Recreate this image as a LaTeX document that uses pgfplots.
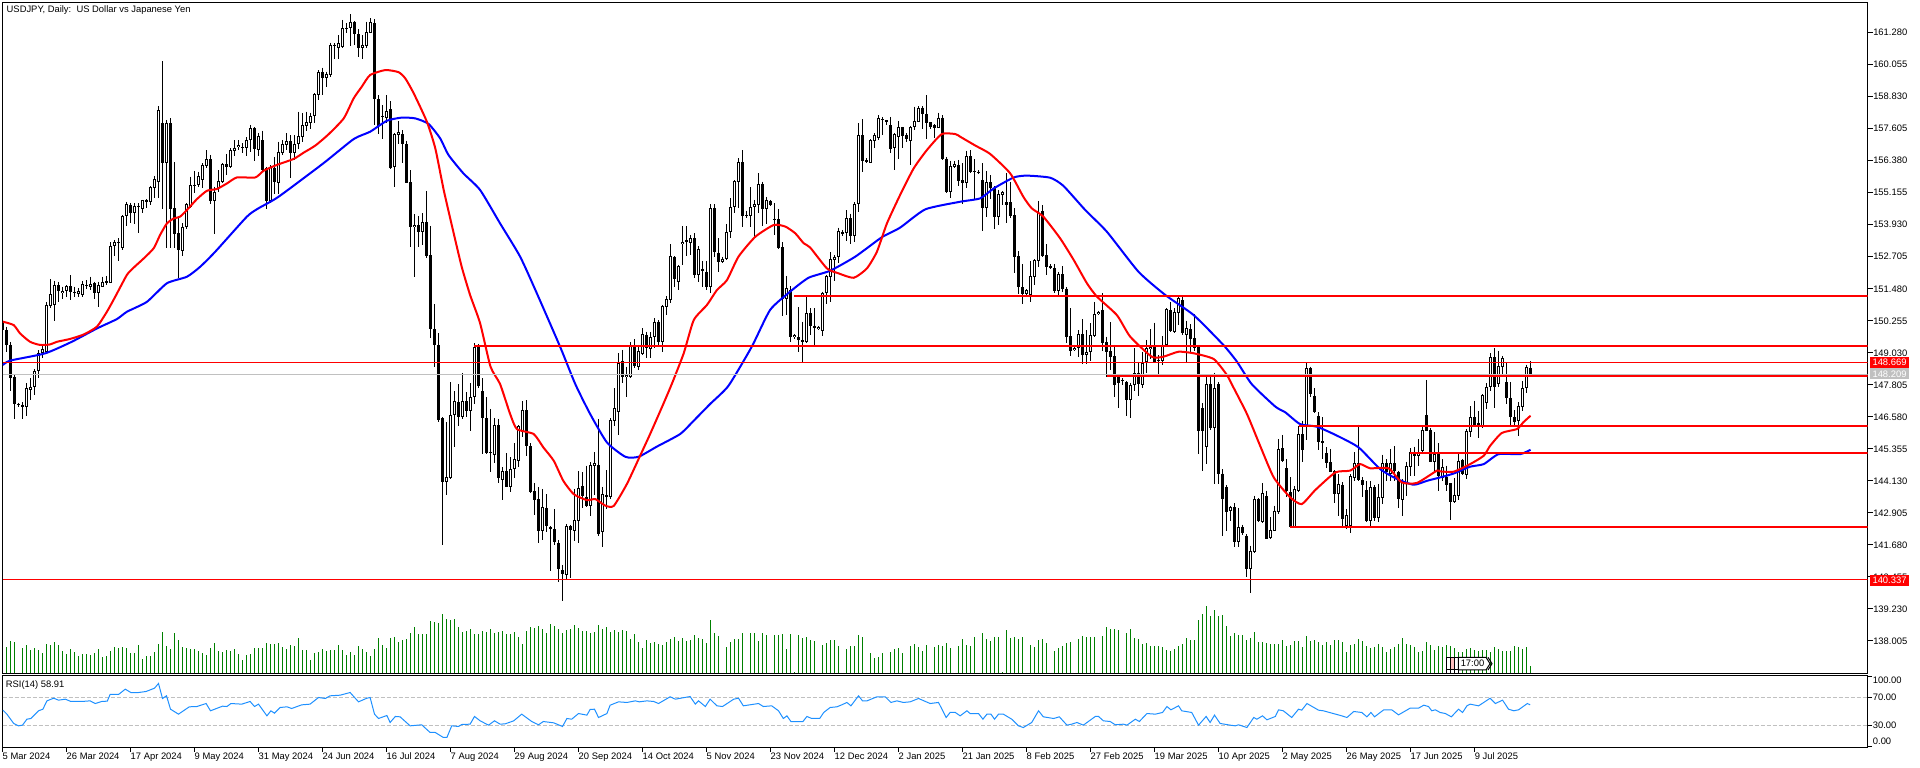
\documentclass[border=0pt]{standalone}
\usepackage{fontspec}
\setmainfont{Liberation Sans}
\usepackage{pgfplots}
\usepackage{pgfplotstable}
\pgfplotsset{compat=1.18}
\definecolor{volgreen}{HTML}{008000}
\definecolor{rsiblue}{HTML}{1E90FF}
\definecolor{lvlgrey}{HTML}{C0C0C0}
\pgfplotstableread{
i o h l c
0 150.22 150.54 149.65 149.90
1 149.90 150.03 149.07 149.33
2 149.33 149.45 147.58 148.05
3 148.11 148.18 146.50 147.07
4 147.07 147.12 146.97 147.02
5 147.04 147.13 146.50 146.94
6 146.94 147.86 146.62 147.68
7 147.60 148.05 147.22 147.73
8 147.73 148.40 147.41 148.33
9 148.33 149.13 148.05 149.01
10 149.01 149.33 148.82 149.16
11 149.07 150.98 149.01 150.86
12 150.82 151.84 150.73 151.27
13 150.86 151.78 150.26 151.62
14 151.62 151.75 150.98 151.41
15 151.30 151.56 151.09 151.41
16 151.39 151.62 151.17 151.58
17 151.58 151.99 151.05 151.34
18 151.37 151.56 151.17 151.30
19 151.28 151.50 151.17 151.39
20 151.25 151.78 151.17 151.65
21 151.60 151.81 151.46 151.62
22 151.56 151.94 151.43 151.67
23 151.70 151.75 151.09 151.33
24 151.33 151.75 150.80 151.62
25 151.56 151.94 151.53 151.75
26 151.74 151.97 151.62 151.76
27 151.71 153.26 151.69 153.13
28 153.13 153.35 152.73 153.26
29 153.24 153.41 152.55 153.27
30 153.03 154.30 152.96 154.27
31 154.27 154.81 153.88 154.72
32 154.70 154.77 153.98 154.37
33 154.39 154.77 153.94 154.65
34 154.63 154.75 153.60 154.66
35 154.54 154.88 154.39 154.86
36 154.81 154.90 154.56 154.88
37 154.81 155.41 154.68 155.36
38 155.32 155.80 154.97 155.67
39 155.58 158.47 154.97 158.31
40 157.81 160.19 154.52 156.30
41 156.28 157.94 153.03 157.84
42 157.81 158.00 153.03 154.52
43 154.56 156.32 153.03 153.57
44 153.60 154.24 151.88 152.96
45 152.94 153.98 152.73 153.86
46 153.83 154.77 153.75 154.72
47 154.62 155.77 154.56 155.44
48 155.44 155.99 155.16 155.46
49 155.44 155.96 155.39 155.79
50 155.64 156.28 155.32 156.22
51 156.19 156.79 156.09 156.43
52 156.43 156.60 154.72 154.85
53 154.85 155.39 153.57 155.20
54 155.32 156.02 155.20 155.62
55 155.58 156.30 155.54 156.24
56 156.25 156.64 155.83 156.15
57 156.13 156.85 156.09 156.78
58 156.76 157.17 156.56 156.88
59 156.89 157.17 156.79 156.97
60 156.88 157.04 156.69 156.90
61 156.85 157.27 156.57 157.17
62 157.17 157.75 156.73 157.62
63 157.62 157.68 156.38 156.81
64 156.79 157.45 156.56 157.33
65 157.17 157.53 155.96 156.02
66 156.09 156.15 154.52 154.85
67 154.84 156.21 154.75 156.15
68 156.11 156.53 155.11 155.58
69 155.54 157.11 155.11 156.73
70 156.69 157.17 156.60 157.02
71 156.99 157.43 156.79 157.12
72 157.12 157.36 155.73 156.69
73 156.69 157.36 156.41 157.02
74 157.01 158.26 156.81 157.33
75 157.27 158.19 157.11 157.73
76 157.71 158.26 157.53 157.85
77 157.81 158.22 157.58 158.09
78 158.09 158.96 157.84 158.92
79 158.89 159.85 158.70 159.77
80 159.77 159.94 158.89 159.56
81 159.56 159.79 159.21 159.70
82 159.66 160.90 159.57 160.79
83 160.79 160.87 160.26 160.82
84 160.71 161.19 160.27 160.87
85 160.74 161.77 160.71 161.45
86 161.43 161.64 161.25 161.46
87 161.45 161.98 160.77 161.70
88 161.70 161.73 160.81 161.22
89 161.23 161.41 160.36 160.68
90 160.71 161.19 160.27 160.81
91 160.77 161.70 160.71 161.29
92 161.28 161.83 161.25 161.68
93 161.64 161.79 157.75 158.75
94 158.75 158.89 157.40 157.71
95 158.10 158.51 157.20 158.04
96 158.00 158.89 157.84 158.28
97 158.35 158.66 156.05 156.11
98 156.15 157.45 155.39 157.40
99 157.38 157.90 157.01 157.47
100 157.39 157.55 156.30 157.01
101 157.02 157.15 155.51 155.54
102 155.55 156.02 153.09 153.86
103 153.83 154.33 151.94 153.91
104 153.91 154.26 153.09 153.67
105 153.67 154.37 153.15 154.02
106 154.02 155.23 152.64 152.75
107 152.77 153.89 149.58 149.94
108 149.94 150.88 148.50 149.33
109 149.33 149.77 146.39 146.46
110 146.53 146.58 141.69 144.10
111 144.10 146.37 143.60 144.26
112 144.24 147.90 144.20 146.66
113 146.66 147.55 145.41 147.17
114 147.13 147.83 146.24 146.58
115 146.56 148.24 146.50 147.17
116 147.17 147.51 146.56 146.81
117 146.81 147.86 146.05 147.32
118 147.32 149.39 147.07 149.26
119 149.26 149.35 147.67 147.77
120 147.55 148.05 145.16 146.52
121 146.52 147.32 145.16 145.19
122 145.20 146.88 144.45 145.23
123 145.13 146.52 144.81 146.26
124 146.26 146.50 144.03 144.22
125 144.17 144.65 143.41 144.49
126 144.49 145.19 143.88 143.91
127 143.88 145.03 143.69 144.57
128 144.57 145.56 144.22 144.95
129 144.90 146.26 144.65 146.24
130 145.98 147.17 145.79 146.84
131 146.84 147.22 145.09 145.45
132 145.45 145.56 143.66 143.71
133 143.73 144.04 142.83 143.41
134 143.43 143.88 141.76 142.22
135 142.22 143.82 141.88 143.11
136 143.09 143.62 142.18 142.41
137 142.35 142.41 140.69 142.32
138 142.28 143.05 141.67 141.80
139 141.75 141.86 140.27 140.75
140 140.70 140.91 139.54 140.56
141 140.52 142.48 140.35 142.39
142 142.39 142.44 140.41 142.25
143 142.22 143.82 141.81 142.63
144 142.58 144.49 141.74 143.84
145 143.92 144.45 143.09 143.53
146 143.50 144.71 143.11 143.15
147 143.15 144.84 142.80 144.73
148 144.71 145.22 143.59 144.80
149 144.73 146.50 142.03 142.09
150 142.18 143.90 141.61 143.61
151 143.55 144.54 143.05 143.57
152 143.52 146.53 143.43 146.46
153 146.43 147.68 146.24 146.90
154 146.77 149.01 145.89 148.62
155 148.71 149.14 147.86 148.11
156 148.09 148.50 147.35 148.18
157 148.11 149.45 148.05 149.33
158 149.33 149.54 148.43 148.52
159 148.50 149.33 148.37 149.10
160 148.98 149.96 148.94 149.73
161 149.71 149.84 148.82 149.20
162 149.16 149.81 148.82 149.62
163 149.62 150.35 149.20 150.22
164 150.22 150.28 149.33 149.43
165 149.45 150.86 149.07 150.82
166 150.79 151.20 150.47 151.07
167 151.05 153.19 150.95 152.75
168 152.71 152.73 151.53 151.84
169 151.75 152.39 151.43 152.35
170 153.18 153.88 152.39 153.28
171 153.31 153.88 152.73 153.33
172 153.24 153.54 152.77 153.41
173 153.41 153.60 151.88 152.01
174 152.01 153.11 151.75 153.00
175 152.25 152.55 151.53 152.16
176 152.13 152.55 151.43 151.53
177 151.53 154.71 151.30 154.56
178 154.56 154.71 152.71 152.87
179 152.86 153.41 152.13 152.52
180 152.52 152.71 152.45 152.63
181 152.62 153.96 152.58 153.66
182 153.66 154.94 153.41 154.60
183 154.60 155.64 154.37 155.60
184 155.58 156.47 154.56 156.32
185 156.32 156.79 153.86 154.28
186 154.29 154.47 154.17 154.31
187 154.28 155.36 153.86 154.60
188 154.60 154.88 153.47 154.72
189 154.68 155.90 154.37 155.48
190 155.48 155.58 153.88 154.52
191 154.52 155.00 153.96 154.88
192 154.85 154.88 154.65 154.68
193 154.16 154.75 153.54 154.14
194 154.14 154.52 152.99 153.03
195 153.07 153.26 150.45 151.09
196 151.09 151.97 150.47 151.50
197 151.43 151.58 149.45 149.65
198 149.62 149.75 149.54 149.71
199 149.62 150.77 149.07 149.52
200 149.52 150.22 148.66 149.45
201 149.45 151.18 149.39 150.54
202 150.54 150.73 149.71 150.07
203 150.07 150.73 149.33 149.96
204 149.94 150.05 149.90 150.03
205 149.88 151.37 149.68 151.33
206 151.30 152.01 150.88 151.97
207 151.94 152.87 150.98 152.60
208 152.58 152.77 151.78 152.71
209 152.68 153.82 152.45 153.69
210 153.66 153.73 153.50 153.56
211 153.60 154.49 153.32 154.17
212 154.17 154.36 153.18 153.50
213 153.51 154.79 153.26 154.71
214 154.71 157.81 154.43 157.35
215 157.35 157.96 155.96 156.38
216 156.37 156.47 156.30 156.39
217 156.30 157.20 156.28 157.17
218 157.15 157.45 156.85 157.36
219 157.24 158.13 157.17 158.00
220 157.95 158.06 157.36 157.97
221 157.90 157.94 157.75 157.92
222 157.73 158.06 156.69 156.83
223 156.85 157.45 156.02 157.39
224 157.27 157.91 156.43 157.66
225 157.66 157.68 156.85 157.33
226 157.36 157.43 157.11 157.21
227 157.15 157.71 156.22 157.66
228 157.66 158.45 157.55 157.90
229 157.87 158.47 157.87 158.38
230 158.41 158.47 157.58 158.15
231 158.17 158.89 157.21 157.84
232 157.85 157.87 157.58 157.68
233 157.73 157.78 157.24 157.64
234 157.64 158.22 157.62 158.03
235 158.03 158.13 156.41 156.46
236 156.46 156.53 155.13 155.20
237 155.20 156.38 154.97 156.18
238 156.15 156.37 156.11 156.25
239 156.21 156.41 155.41 155.60
240 155.63 156.28 154.72 155.54
241 155.54 156.76 155.35 156.56
242 156.56 156.79 155.92 155.95
243 155.99 156.43 154.88 155.95
244 155.96 156.02 155.87 155.94
245 155.63 156.28 153.70 154.58
246 154.58 155.99 154.24 155.55
247 155.55 155.83 154.90 155.32
248 155.32 155.41 153.78 154.24
249 154.24 155.26 153.92 155.09
250 155.07 155.23 154.68 155.20
251 154.79 155.90 153.98 154.68
252 154.79 155.58 154.17 154.27
253 154.30 154.56 152.07 152.71
254 152.73 152.92 151.28 151.53
255 151.53 152.41 150.90 151.28
256 151.28 151.46 151.24 151.43
257 151.24 152.55 150.98 151.97
258 151.94 152.60 151.62 152.58
259 152.55 154.84 152.32 154.37
260 154.45 154.68 152.68 152.73
261 152.76 153.18 152.01 152.32
262 152.31 152.41 152.22 152.34
263 152.26 152.43 151.33 151.41
264 151.41 152.13 151.21 152.04
265 152.04 152.35 151.37 151.49
266 151.49 151.53 149.39 149.65
267 149.67 150.73 148.92 149.11
268 149.13 149.33 149.10 149.22
269 149.20 149.90 148.85 149.73
270 149.73 150.31 148.59 148.94
271 148.94 149.90 148.60 149.05
272 149.05 150.16 148.73 149.71
273 149.68 150.98 149.65 150.51
274 150.50 150.64 150.47 150.60
275 150.67 151.30 149.11 149.39
276 149.43 149.65 148.11 149.07
277 149.10 150.19 148.37 148.88
278 148.90 149.33 147.32 147.80
279 148.11 148.21 146.92 147.86
280 147.97 148.05 147.80 147.99
281 147.92 147.95 146.62 147.23
282 147.23 147.88 146.53 147.80
283 147.80 149.20 147.55 148.24
284 148.27 148.69 147.36 147.83
285 147.80 149.07 147.67 148.62
286 148.69 149.52 148.27 149.20
287 149.16 149.93 148.78 149.26
288 149.26 150.18 148.62 148.65
289 148.74 148.94 148.11 148.77
290 148.73 149.67 148.56 149.33
291 149.33 150.75 149.29 150.69
292 150.66 150.98 149.84 149.88
293 149.84 150.73 149.80 150.60
294 150.57 151.18 150.09 151.11
295 151.05 151.20 149.71 149.77
296 149.71 150.26 148.65 149.96
297 149.93 150.13 149.01 149.56
298 149.58 150.50 149.11 149.20
299 149.33 149.33 145.16 146.05
300 146.91 147.09 144.51 146.05
301 145.41 148.18 144.77 147.83
302 147.83 148.18 146.07 146.17
303 146.17 148.27 144.01 147.68
304 147.83 147.92 144.01 144.39
305 144.41 144.58 142.03 143.43
306 143.88 143.97 142.22 142.95
307 142.96 143.18 142.60 143.11
308 143.11 143.27 141.61 141.77
309 141.77 143.09 141.61 142.35
310 142.35 142.45 142.07 142.13
311 142.00 142.09 140.46 140.75
312 140.75 141.65 139.85 141.46
313 141.39 143.56 141.35 143.43
314 143.43 143.46 142.54 142.58
315 142.57 144.04 142.50 143.65
316 143.53 143.75 141.90 141.90
317 141.93 142.73 141.90 142.25
318 142.22 143.18 142.20 142.99
319 142.94 145.73 142.86 145.35
320 145.37 145.89 144.84 144.90
321 144.61 144.96 143.50 143.75
322 143.69 144.26 142.35 142.37
323 142.35 143.94 142.35 143.80
324 143.73 146.24 143.69 145.92
325 145.92 146.43 144.84 145.32
326 146.24 148.62 145.70 148.43
327 148.43 148.50 147.32 147.45
328 147.39 147.68 146.71 146.75
329 146.62 146.75 145.31 145.63
330 145.64 146.56 144.96 145.58
331 145.18 145.41 144.62 144.81
332 144.84 145.35 144.45 144.48
333 144.49 144.54 143.27 143.62
334 143.62 144.39 142.80 144.01
335 143.97 144.07 142.41 142.67
336 142.39 143.05 142.28 142.82
337 142.41 144.39 142.12 144.30
338 144.24 145.22 144.11 144.81
339 144.81 146.28 144.13 144.16
340 144.16 144.26 143.50 143.97
341 143.78 144.13 142.54 142.60
342 142.60 144.13 142.41 143.88
343 143.88 143.97 142.58 142.69
344 142.69 144.01 142.57 143.50
345 143.47 145.13 143.24 144.81
346 144.81 144.96 144.13 144.48
347 144.39 145.35 144.13 144.81
348 144.81 145.45 144.13 144.49
349 144.48 144.52 143.09 143.43
350 143.41 144.20 142.77 144.07
351 144.01 144.86 143.56 144.68
352 144.65 145.38 144.32 145.22
353 145.22 145.44 144.32 145.08
354 145.07 145.73 144.71 145.22
355 145.28 146.24 145.22 146.07
356 146.65 147.99 146.02 146.05
357 146.07 146.17 144.84 144.84
358 144.86 145.98 144.45 145.16
359 145.22 145.56 143.75 144.32
360 144.22 144.96 144.13 144.65
361 144.26 144.71 143.75 143.97
362 144.03 144.03 142.63 143.33
363 143.33 144.22 143.28 143.59
364 143.56 145.18 143.41 144.90
365 144.93 144.96 144.36 144.41
366 144.36 146.12 144.20 146.05
367 146.01 146.98 145.82 146.56
368 146.56 147.20 146.21 146.24
369 146.33 146.79 145.75 146.24
370 146.24 147.45 146.17 147.41
371 147.09 147.86 146.88 147.73
372 147.71 149.01 147.55 148.85
373 148.85 149.20 146.90 147.73
374 147.83 149.10 147.71 148.52
375 148.50 148.91 148.18 148.82
376 147.92 148.62 147.07 147.30
377 147.30 147.92 146.24 146.56
378 146.56 146.84 146.24 146.40
379 146.43 147.13 145.86 147.00
380 146.97 147.95 146.81 147.68
381 147.69 148.58 147.49 148.47
382 148.43 148.71 148.11 148.21
}\candles
\begin{document}
\begin{tikzpicture}[x=1pt,y=1pt]
\path[use as bounding box] (0,0) rectangle (1920,768);
% volume
\begin{axis}[at={(2.5pt,94.5pt)},anchor=south west,scale only axis,width=1865pt,height=200pt,
  xmin=0,xmax=466.25,ymin=0,ymax=600,hide axis]
\addplot[ycomb,draw=volgreen,line width=1pt,mark=none] coordinates {
(1,78)(2,96)(3,93)(4,0)(5,75)(6,85)(7,70)(8,76)(9,70)(10,61)(11,88)(12,85)(13,94)(14,85)(15,67)(16,58)(17,73)(18,64)(19,52)(20,58)(21,58)(22,55)(23,61)(24,73)(25,49)(26,52)(27,67)(28,79)(29,76)(30,79)(31,76)(32,61)(33,61)(34,85)(35,43)(36,52)(37,52)(38,64)(39,88)(40,124)(41,82)(42,73)(43,121)(44,100)(45,79)(46,76)(47,73)(48,73)(49,67)(50,61)(51,55)(52,76)(53,91)(54,67)(55,64)(56,70)(57,68)(58,73)(59,58)(60,40)(61,55)(62,58)(63,76)(64,76)(65,76)(66,91)(67,88)(68,88)(69,91)(70,79)(71,73)(72,85)(73,82)(74,106)(75,70)(76,70)(77,40)(78,61)(79,64)(80,73)(81,67)(82,70)(83,70)(84,85)(85,70)(86,55)(87,64)(88,55)(89,82)(90,73)(91,64)(92,52)(93,73)(94,106)(95,85)(96,76)(97,106)(98,109)(99,94)(100,100)(101,103)(102,121)(103,139)(104,118)(105,118)(106,118)(107,157)(108,154)(109,151)(110,178)(111,163)(112,160)(113,163)(114,139)(115,124)(116,127)(117,133)(118,118)(119,118)
(120,127)(121,124)(122,133)(123,121)(124,124)(125,127)(126,118)(127,118)(128,124)(129,109)(130,88)(131,127)(132,139)(133,136)(134,142)(135,133)(136,121)(137,148)(138,142)(139,133)(140,121)(141,130)(142,133)(143,145)(144,136)(145,127)(146,127)(147,121)(148,124)(149,145)(150,133)(151,139)(152,124)(153,130)(154,124)(155,130)(156,127)(157,103)(158,118)(159,94)(160,76)(161,100)(162,91)(163,94)(164,88)(165,85)(166,94)(167,103)(168,109)(169,97)(170,106)(171,97)(172,100)(173,115)(174,106)(175,103)(176,91)(177,160)(178,121)(179,112)(180,0)(181,79)(182,94)(183,103)(184,103)(185,121)(186,0)(187,121)(188,121)(189,97)(190,121)(191,115)(192,0)(193,115)(194,115)(195,118)(196,73)(197,118)(198,4)(199,115)(200,106)(201,109)(202,100)(203,97)(204,0)(205,85)(206,91)(207,100)(208,100)(209,82)(210,0)(211,73)(212,82)(213,82)(214,115)(215,109)(216,0)(217,61)(218,46)(219,49)(220,61)(221,0)(222,64)(223,73)(224,76)(225,61)(226,0)(227,82)(228,88)(229,79)(230,67)(231,85)(232,0)(233,79)(234,85)(235,82)(236,91)(237,76)(238,0)(239,82)
(240,103)(241,85)(242,82)(243,109)(244,0)(245,121)(246,103)(247,97)(248,109)(249,109)(250,4)(251,130)(252,106)(253,109)(254,103)(255,109)(256,0)(257,85)(258,79)(259,100)(260,103)(261,91)(262,0)(263,67)(264,76)(265,82)(266,91)(267,94)(268,0)(269,103)(270,112)(271,109)(272,109)(273,109)(274,0)(275,112)(276,139)(277,133)(278,133)(279,130)(280,0)(281,121)(282,133)(283,106)(284,103)(285,88)(286,91)(287,82)(288,82)(289,82)(290,79)(291,70)(292,67)(293,73)(294,82)(295,88)(296,106)(297,100)(298,100)(299,160)(300,178)(301,202)(302,172)(303,190)(304,172)(305,175)(306,142)(307,112)(308,121)(309,115)(310,115)(311,100)(312,106)(313,124)(314,94)(315,94)(316,91)(317,88)(318,88)(319,88)(320,100)(321,82)(322,85)(323,97)(324,97)(325,79)(326,112)(327,97)(328,100)(329,94)(330,85)(331,94)(332,85)(333,100)(334,100)(335,94)(336,64)(337,85)(338,88)(339,103)(340,97)(341,82)(342,76)(343,79)(344,88)(345,79)(346,64)(347,73)(348,79)(349,88)(350,106)(351,88)(352,85)(353,79)(354,64)(355,67)(356,94)(357,85)(358,70)(359,82)
(360,79)(361,85)(362,82)(363,76)(364,64)(365,64)(366,73)(367,76)(368,70)(369,67)(370,70)(371,70)(372,64)(373,79)(374,73)(375,67)(376,67)(377,67)(378,82)(379,79)(380,73)(381,79)(382,22)
};
\end{axis}
% RSI panel
\begin{axis}[at={(2.5pt,20.5pt)},anchor=south west,scale only axis,width=1865pt,height=72pt,
  xmin=0,xmax=466.25,ymin=-1.43,ymax=101.43,
  axis line style={line width=1pt,black},tick style={black,line width=1pt},
  tick align=outside,major tick length=4.5pt,
  xtick pos=bottom,ytick pos=right,
  xtick={0,16,32,48,64,80,96,112,128,144,160,176,192,208,224,240,256,272,288,304,320,336,352,368},
  xticklabels={5 Mar 2024,26 Mar 2024,17 Apr 2024,9 May 2024,31 May 2024,24 Jun 2024,16 Jul 2024,7 Aug 2024,29 Aug 2024,20 Sep 2024,14 Oct 2024,5 Nov 2024,23 Nov 2024,12 Dec 2024,2 Jan 2025,21 Jan 2025,8 Feb 2025,27 Feb 2025,19 Mar 2025,10 Apr 2025,2 May 2025,26 May 2025,17 Jun 2025,9 Jul 2025},
  xticklabel style={anchor=north west,inner sep=0pt,font=\fontsize{9.4}{10}\selectfont,yshift=-0.5pt},
  ytick={0,30,70,100},yticklabels={,,,}]
\addplot[lvlgrey,line width=1pt,dash pattern=on 4pt off 2pt] coordinates {(0,70)(466.25,70)};
\addplot[lvlgrey,line width=1pt,dash pattern=on 4pt off 2pt] coordinates {(0,30)(466.25,30)};
\addplot[rsiblue,line width=1pt] coordinates {
(0.1,51.9)(1.1,46.2)(2.8,32.9)(4,29.5)(5,30.5)(6.1,39)(7.1,40)(9,51)(10.1,53.3)(11.1,65.2)(12.8,69)(14,66.2)(15.7,67.6)(17.1,64.3)(19.8,64.3)(21.9,65.2)(23.2,61.4)(24.8,64.3)(26.2,64.8)(26.9,74.3)(29,74.3)(30.7,81.9)(32.1,77.1)(34,77.1)(35.9,78.6)(38,83.3)(39,90)(40,68.6)(41,72.4)(42,53.3)(44,46.2)(46.7,56.7)(48.6,57.1)(50.9,61.4)(52,51)(55,57.6)(56.1,57.1)(57.1,61.4)(59.8,60.5)(61.9,64.3)(63,57.1)(64,60.5)(66.1,43.8)(67.1,51)(68,47.6)(69.4,55.7)(71.1,56.7)(72.3,54.3)(74.8,59.5)(76.9,60.5)(79,70)(80.7,68.6)(81.9,72.4)(84.4,73.3)(86.9,77.1)(89,63.8)(91.1,69)(91.9,70)(93,46.2)(94,40)(96.1,44.3)(96.9,34.3)(98.2,42.9)(99.4,42.4)(101.9,29.5)(104.8,31)(106.9,20)(108.2,20)(110.2,12.9)(111.1,12.9)(112.3,29.5)(114,28.6)(114.8,31.4)(116.9,31.9)(118,42.9)(119.4,36.7)
(121.5,30.5)(123,36.7)(124.4,31.9)(125.7,32.4)(127.8,36.7)(129.8,46.2)(132.3,35.7)(134,31)(135.2,35.7)(137.8,33.8)(140,28.6)(141.1,40)(142.3,39)(144,47.1)(146.1,44.8)(146.9,52.9)(148,53.3)(149,41.4)(151.1,47.1)(151.9,59)(154,63.8)(156.1,62.9)(158.2,65.2)(159.2,63.8)(161.1,65.2)(162.8,64.3)(164,61.4)(166.9,71)(168.2,67.6)(171.9,71.4)(173.2,60.5)(174,65.2)(175.7,57.1)(176.9,67.6)(178.6,58.1)(180,57.1)(182.8,67.6)(184,69)(185.2,58.1)(189,61.4)(190.2,57.1)(192.3,58.1)(194,51)(195.2,40)(196.1,43.8)(197.1,35.7)(200.1,35.7)(201.1,42.9)(202.3,40)(204.3,40)(205.3,48.6)(206.9,55.7)(208.6,56.7)(209.8,59.5)(211.1,62.9)(212.1,58.1)(214,72.4)(215,65.2)(216.1,65.2)(218.6,71)(220.7,71)(222.1,62.9)(223.6,65.2)(225.2,62.9)(226.9,63.8)(229,68.6)(231.9,61.4)(234,62.9)(235.9,41.4)(236.9,48.6)(238.2,48.6)(239.4,43.8)
(241.1,51)(241.9,47.1)(244,47.1)(245.1,39)(246.1,46.2)(247.1,46.2)(248,39)(249,46.2)(250.2,46.2)(252.3,39)(254,29.5)(255.2,27.1)(257.3,34.3)(259,51)(260.2,42.4)(262.8,40)(264.2,42.4)(266.1,30.5)(267.3,31.9)(268.6,34.3)(270.2,30.5)(273.2,42.9)(274,42.9)(275.2,36.7)(276.9,35.7)(278.2,31)(280.2,31.9)(281.1,30.5)(283.2,39)(284.2,35.7)(286.1,47.1)(288.2,46.2)(290,48.6)(291.1,57.1)(292.1,52.4)(294,58.1)(294.8,51)(297.3,48.6)(299,30.5)(300.9,42.9)(301.9,34.3)(303,44.8)(304.4,32.9)(306.9,30.5)(308.2,29.5)(309,31)(311.1,27.1)(312.8,41.4)(313.6,39)(315,43.8)(316.1,38.1)(318.2,42.9)(319,52.4)(320.2,51)(322.3,41.4)(324,53.3)(324.8,51.9)(326.1,61.4)(329,51.9)(330.2,51)(334.8,43.8)(336.1,41.4)(337.8,50)(339.8,48.6)(341.1,42.4)(342.1,48.6)(343,42.4)(345.3,52.4)(347.3,52.4)(349,45.2)(351.9,54.8)(354,54.8)(355.3,59)(356.5,57.1)(357.3,51)(358.2,52.4)(359.4,48.6)(360.7,47.1)(362.2,42.4)(364,53.3)(365,48.6)(366.1,58.1)(366.9,60.5)(369,58.1)(370.3,62.9)(371.9,69)(373.2,61.4)(375,66.2)(376.5,53.3)(377.8,51)(379,52.4)(381.2,61.4)(381.9,59.5)
};
\end{axis}
% main price panel
\begin{axis}[at={(2.5pt,94.5pt)},anchor=south west,scale only axis,width=1865pt,height=671pt,
  xmin=0,xmax=466.25,ymin=136.756,ymax=162.436,
  axis line style={line width=1pt,black},tick style={black,line width=1pt},
  tick align=outside,major tick length=5pt,
  xtick=\empty,ytick pos=right,
  ytick={161.28,160.055,158.83,157.605,156.38,155.155,153.93,152.705,151.48,150.255,149.03,147.805,146.58,145.355,144.13,142.905,141.68,140.455,139.23,138.005},
  yticklabel style={anchor=west,inner sep=0pt,xshift=0.5pt,font=\fontsize{9.4}{10}\selectfont,
    /pgf/number format/.cd,fixed,fixed zerofill,precision=3,assume math mode=true}]
% wicks
\addplot[draw=none,mark=none,forget plot,
  error bars/.cd,y dir=both,y explicit,error mark=none,error bar style={draw=black,line width=1pt}]
  table[x=i,y=h,y error plus expr=0,y error minus expr=\thisrow{h}-\thisrow{l}] {\candles};
% bodies
\addplot[draw=none,mark=none,forget plot,
  error bars/.cd,y dir=both,y explicit,error mark=none,error bar style={draw=black,line width=3pt}]
  table[x=i,y expr={max(\thisrow{o},\thisrow{c})},y error plus expr=0,y error minus expr={max(abs(\thisrow{o}-\thisrow{c}),0.05)}] {\candles};
% white interior of rising candles
\addplot[draw=none,mark=none,forget plot,
  error bars/.cd,y dir=both,y explicit,error mark=none,error bar style={draw=white,line width=1pt}]
  table[x=i,y expr={\thisrow{c}-0.038},y error plus expr=0,y error minus expr={max(\thisrow{c}-\thisrow{o}-0.076,0)}] {\candles};
% moving averages
\addplot[blue,line width=2pt,smooth,tension=0.35] coordinates {
(0.1,148.56)(1.9,148.73)(10.7,149.01)(17.3,149.45)(23.6,149.96)(28.6,150.32)(31.1,150.60)(36.1,150.98)(41.1,151.69)(46.1,151.94)(49.4,152.32)(53.2,152.90)(61.1,154.24)(64,154.56)(69,155.00)(80.2,156.28)(87.8,157.21)(91.9,157.49)(96.1,157.91)(99.8,158.03)(103.2,158.00)(106.5,157.79)(109.4,157.24)(111.5,156.60)(115.2,155.90)(119.4,155.26)(124.4,153.98)(129.4,152.71)(133.6,151.30)(139.4,149.26)(143.2,147.83)(146.9,146.69)(151.1,145.60)(155.7,145.05)(159,145.05)(163.6,145.44)(169.4,145.92)(172.8,146.43)(176.9,147.07)(181.5,147.77)(187.3,149.26)(191.9,150.67)(196.9,151.37)(201.5,151.90)(206.9,152.17)(213.2,152.71)(219.8,153.45)(224.4,153.82)(230.7,154.52)(239.4,154.81)(244.4,154.94)(247.8,155.32)(252.8,155.74)(256.1,155.81)(261.9,155.73)(265.2,155.42)(270.7,154.49)(276.1,153.66)(284,152.13)(290.7,151.24)(297.8,150.47)(305.2,149.33)(308.6,148.69)(312.3,147.83)(318.2,146.97)(320.7,146.75)(324.4,146.30)(328.6,146.20)(333.6,145.86)(339,145.41)(344.4,144.58)(348.6,144.20)(352.8,143.98)(356.1,144.13)(359.4,144.26)(362.8,144.41)(366.9,144.67)(370.3,144.77)(374,145.15)(379.4,145.15)(382,145.32)
};
\addplot[red,line width=2pt,smooth,tension=0.35] coordinates {
(0.1,150.22)(2.8,150.09)(4.4,149.77)(6.9,149.45)(9.4,149.33)(11.9,149.35)(13.6,149.45)(16.9,149.56)(20.3,149.73)(23.6,150.03)(26.1,150.60)(28.2,151.18)(31.1,152.01)(32.8,152.29)(35.3,152.64)(37.8,153.03)(39.4,153.54)(41.1,153.98)(42.8,154.17)(44.4,154.24)(46.5,154.56)(48.6,154.91)(51.1,155.23)(53.6,155.30)(56.1,155.51)(58.6,155.74)(63.2,155.74)(65.3,156.00)(68.6,156.22)(72.8,156.45)(75.3,156.69)(78.2,156.96)(81.5,157.39)(85.3,158.00)(87.8,158.77)(89.8,159.21)(91.9,159.66)(95.7,159.85)(99,159.77)(100.7,159.53)(102.8,158.96)(106.1,157.87)(108.2,156.85)(110.3,155.26)(112.8,153.60)(114.8,152.32)(116.9,151.24)(119.4,150.16)(122,148.50)(124.4,147.83)(126.9,146.69)(128.6,146.11)(132.8,145.92)(135.2,145.41)(137.8,144.90)(140.2,144.13)(142.8,143.62)(146.1,143.39)(148.2,143.43)(150.7,143.18)(152.8,143.17)(156.1,144.01)(159.4,145.09)(161.9,145.92)(165.2,147.07)(167.3,147.83)(170.3,149.01)(172.8,150.28)(176.1,150.86)(178.6,151.43)(181.1,151.81)(184,152.71)(188.2,153.47)(192.8,153.92)(195.7,153.86)(198.2,153.60)(200.3,153.22)(201.9,153.06)(206.1,152.26)(209,152.07)(212.8,151.90)(216.1,152.26)(218.6,152.90)(221.1,153.98)(224.4,155.07)(227.8,156.09)(231.1,156.79)(234.8,157.40)(238.2,157.40)(239.4,157.30)(243.2,156.96)(246.9,156.64)(251.9,155.90)(255.2,155.00)(257.3,154.56)(260.2,154.24)(264.4,153.41)(267.8,152.58)(271.1,151.69)(273.6,151.18)(278.6,150.47)(281.9,149.65)(287.3,148.88)(290.2,148.88)(294,149.07)(297.8,149.01)(302.8,148.79)(306.1,148.18)(307.3,147.83)(311.1,146.69)(314.4,145.47)(317.8,144.26)(321.9,143.50)(324.8,143.24)(328.2,143.78)(333.2,144.45)(336.9,144.52)(339.4,144.77)(341.9,144.61)(346.5,144.61)(349.8,144.07)(353.6,144.05)(358.6,144.52)(359.4,144.49)(362.8,144.48)(366.9,144.77)(370.3,145.09)(371.9,145.47)(374.8,145.96)(378.6,146.11)(380.2,146.37)(382,146.62)
};
% levels
\addplot[lvlgrey,line width=1pt] coordinates {(0,148.209)(466.25,148.209)};
\addplot[red,line width=1pt] coordinates {(0,148.669)(466.25,148.669)};
\addplot[red,line width=1pt] coordinates {(0,140.337)(466.25,140.337)};
\addplot[red,line width=2pt] coordinates {(197.9,151.22)(466.25,151.22)};
\addplot[red,line width=2pt] coordinates {(117.8,149.30)(466.25,149.30)};
\addplot[red,line width=2pt] coordinates {(276.1,148.125)(466.25,148.125)};
\addplot[red,line width=2pt] coordinates {(324.1,146.24)(466.25,146.24)};
\addplot[red,line width=2pt] coordinates {(351.9,145.21)(466.25,145.21)};
\addplot[red,line width=2pt] coordinates {(321.9,142.38)(466.25,142.38)};
\end{axis}
% annotations
\tikzset{lab/.style={anchor=west,inner sep=0pt,font=\fontsize{9.4}{10}\selectfont}}
\node[lab] at (6.5,758.3) {USDJPY, Daily:\ \ US Dollar vs Japanese Yen};
\node[lab] at (5.7,83.3) {RSI(14) 58.91};
\node[lab] at (1872.7,87.7) {100.00};
\node[lab] at (1872.7,70.7) {70.00};
\node[lab] at (1872.7,42.7) {30.00};
\node[lab] at (1872.7,26.3) {0.00};
\fill[red] (1870,400.3) rectangle (1909,411);
\node[font=\fontsize{9.4}{10}\selectfont,text=white,inner sep=0pt] at (1889.5,405.6) {148.669};
\fill[lvlgrey] (1870,388.5) rectangle (1909,399.5);
\node[font=\fontsize{9.4}{10}\selectfont,text=white,inner sep=0pt] at (1889.5,394) {148.209};
\fill[red] (1870,182.3) rectangle (1909,193);
\node[font=\fontsize{9.4}{10}\selectfont,text=white,inner sep=0pt] at (1889.5,187.7) {140.337};
% time flag
\begin{scope}[line width=1pt]
\fill[pink] (1450.7,99) rectangle (1453.5,110.7);
\draw (1446.7,95) -- (1446.7,110.7) -- (1458.3,110.7);
\draw (1450.7,95) -- (1450.7,110.7);
\draw (1454,95) -- (1454,110.7);
\draw (1446.7,98.8) -- (1458.3,98.8);
\draw (1458.3,95) -- (1458.3,98);
\draw[fill=white] (1458.3,98) -- (1486,98) -- (1490,104.3) -- (1486,110.7) -- (1458.3,110.7) -- cycle;
\draw (1488,98) -- (1492,104.3) -- (1488,110.7);
\end{scope}
\node[font=\fontsize{9.4}{10}\selectfont,inner sep=0pt] at (1472.5,104.3) {17:00};
\end{tikzpicture}
\end{document}
